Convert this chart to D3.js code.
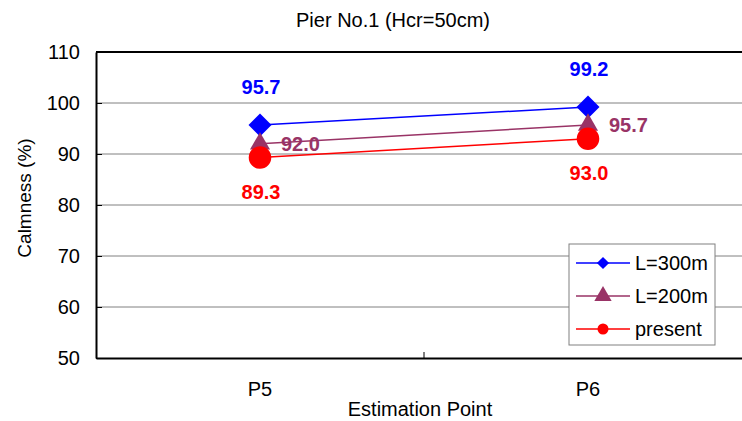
<!DOCTYPE html>
<html>
<head>
<meta charset="utf-8">
<script src="https://cdn.jsdelivr.net/npm/d3@7"></script>
<style>
  body { margin: 0; background: #fff; }
  text { font-family: "Liberation Sans", Arial, sans-serif; }
</style>
</head>
<body>
<div id="chart"></div>
<script>
// Chart data
const points = ["P5", "P6"];
const yTicks = [50, 60, 70, 80, 90, 100, 110];
const seriesNames = ["L=300m", "L=200m", "present"];
const l300 = [95.7, 99.2];
const l200 = [92.0, 95.7];
const present = [89.3, 93.0];

const width = 742, height = 421;
const margin = { top: 52, right: -10, bottom: 63, left: 96 };

const svg = d3.select("#chart").append("svg").attr("width", width).attr("height", height);

const x = d3.scaleBand().domain(points).range([margin.left, width - margin.right]);
const y = d3.scaleLinear().domain([50, 110]).range([height - margin.bottom, margin.top]);

// gridlines
svg.append("g").selectAll("line").data(yTicks.slice(1, -1)).enter().append("line")
    .attr("x1", margin.left).attr("x2", width)
    .attr("y1", d => y(d)).attr("y2", d => y(d))
    .attr("stroke", "#808080").attr("stroke-width", 1);

// top border
svg.append("line").attr("x1", margin.left).attr("x2", width)
    .attr("y1", y(110)).attr("y2", y(110)).attr("stroke", "#000").attr("stroke-width", 2);

// y axis (ticks point inward)
const yAxis = svg.append("g").attr("transform", `translate(${margin.left},0)`)
    .call(d3.axisLeft(y).tickValues(yTicks).tickSizeInner(-6).tickSizeOuter(0).tickPadding(16));
yAxis.select(".domain").attr("stroke-width", 2);
yAxis.selectAll("text").style("font-size", "20px").attr("fill", "#000");

// x axis
const xAxis = svg.append("g").attr("transform", `translate(0,${y(50)})`)
    .call(d3.axisBottom(x).tickSize(0).tickPadding(24));
xAxis.select(".domain").attr("stroke-width", 2);
xAxis.selectAll("text").style("font-size", "20px").attr("fill", "#000");
// category separator tick
svg.append("line")
    .attr("x1", x("P6")).attr("x2", x("P6"))
    .attr("y1", y(50)).attr("y2", y(50) - 6)
    .attr("stroke", "#000");

const series = [
    { name: seriesNames[0], values: l300, color: "#0000ff", shape: d3.symbolSquare, size: 265, rot: 45 },
    { name: seriesNames[1], values: l200, color: "#993366", shape: d3.symbolTriangle, size: 175, rot: 0 },
    { name: seriesNames[2], values: present, color: "#ff0000", shape: d3.symbolCircle, size: 400, rot: 0 }
];

const cx = p => x(p) + x.bandwidth() / 2;
const line = d3.line().x(d => cx(d.p)).y(d => y(d.v));

series.forEach(s => {
    const pts = points.map((p, i) => ({ p, v: s.values[i] }));
    svg.append("path").datum(pts)
        .attr("fill", "none").attr("stroke", s.color).attr("stroke-width", 1.5)
        .attr("d", line);
    svg.selectAll(null).data(pts).enter().append("path")
        .attr("transform", d => `translate(${cx(d.p)},${y(d.v)}) rotate(${s.rot})`)
        .attr("d", d3.symbol().type(s.shape).size(s.size))
        .attr("fill", s.color);
});

// value labels
const labelStyle = sel => sel.style("font-size", "20px").style("font-weight", "bold");
// L=300m: above
svg.selectAll(null).data(points.map((p, i) => ({ p, v: l300[i] }))).enter().append("text")
    .attr("x", d => cx(d.p) + 1).attr("y", d => y(d.v) - 31)
    .attr("text-anchor", "middle").attr("fill", "#0000ff")
    .text(d => d.v.toFixed(1)).call(labelStyle);
// L=200m: right
svg.selectAll(null).data(points.map((p, i) => ({ p, v: l200[i] }))).enter().append("text")
    .attr("x", d => cx(d.p) + 21).attr("y", d => y(d.v) + 7)
    .attr("fill", "#993366")
    .text(d => d.v.toFixed(1)).call(labelStyle);
// present: below
svg.selectAll(null).data(points.map((p, i) => ({ p, v: present[i] }))).enter().append("text")
    .attr("x", d => cx(d.p) + 1).attr("y", d => y(d.v) + 41)
    .attr("text-anchor", "middle").attr("fill", "#ff0000")
    .text(d => d.v.toFixed(1)).call(labelStyle);

// legend
const legendSizes = [75, 130, 95];
const legend = svg.append("g").attr("transform", "translate(569,244)");
legend.append("rect").attr("width", 146).attr("height", 101)
    .attr("fill", "#fff").attr("stroke", "#808080");
series.forEach((s, i) => {
    const g = legend.append("g").attr("transform", `translate(0,${19 + i * 33})`);
    g.append("line").attr("x1", 7).attr("x2", 61).attr("stroke", s.color).attr("stroke-width", 1.5);
    g.append("path").attr("transform", `translate(34,0) rotate(${s.rot})`)
        .attr("d", d3.symbol().type(s.shape).size(legendSizes[i])).attr("fill", s.color);
    g.append("text").attr("x", 66).attr("y", 7).style("font-size", "20px").text(s.name);
});

// titles
svg.append("text").attr("x", 393).attr("y", 27).attr("text-anchor", "middle")
    .style("font-size", "20px").text("Pier No.1 (Hcr=50cm)");
svg.append("text").attr("x", 420).attr("y", 416).attr("text-anchor", "middle")
    .style("font-size", "20px").text("Estimation Point");
svg.append("text").attr("transform", "rotate(-90)").attr("x", -198).attr("y", 31)
    .attr("text-anchor", "middle").style("font-size", "19px").text("Calmness (%)");
</script>
</body>
</html>
